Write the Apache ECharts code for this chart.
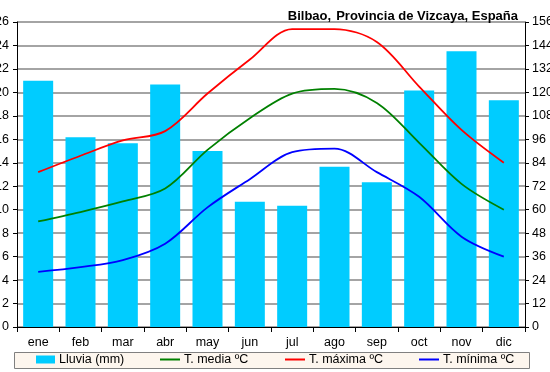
<!DOCTYPE html>
<html>
<head>
<meta charset="utf-8">
<script src="https://cdn.jsdelivr.net/npm/echarts@6/dist/echarts.min.js"></script>
<style>html,body{margin:0;padding:0;background:#fff}#c{width:550px;height:372px}</style>
</head>
<body>
<div id="c"></div>
<script>
var months = ['ene','feb','mar','abr','may','jun','jul','ago','sep','oct','nov','dic'];
var lluvia = [126, 97, 94, 124, 90, 64, 62, 82, 74, 121, 141, 116];
var tMedia = [9.0, 9.8, 10.7, 11.8, 15.1, 17.8, 19.9, 20.3, 19.1, 15.7, 12.2, 10.0];
var tMaxima = [13.2, 14.6, 15.9, 16.7, 19.9, 22.8, 25.4, 25.4, 24.3, 20.5, 16.8, 14.0];
var tMinima = [4.7, 5.1, 5.7, 7.1, 10.2, 12.6, 14.9, 15.2, 13.2, 11.1, 7.7, 6.0];
var leftTicks = {min: 0, max: 26, interval: 2};
var rightTicks = {min: 0, max: 156, interval: 12};
var names = ['Lluvia (mm)', 'T. media ºC', 'T. máxima ºC', 'T. mínima ºC'];

var font = 'Arial, "Liberation Sans", sans-serif';
var chart = echarts.init(document.getElementById('c'), null, {renderer: 'canvas'});
function leg(name, left, icon, w, h) {
  return {
    data: [{name: name, icon: icon}],
    left: left, top: 353, itemWidth: w, itemHeight: h, itemGap: 0, padding: 0,
    textStyle: {fontFamily: font, fontSize: 12.5, color: '#000', padding: [0,0,0,-1]},
    selectedMode: false
  };
}
chart.setOption({
  animation: false,
  textStyle: {fontFamily: font},
  title: {
    text: '{b|Bilbao,} {n|Provincia de Vizcaya, España}',
    right: 27, top: 2,
    textStyle: {rich: {
      b: {fontFamily: font, fontSize: 13, fontWeight: 'bold', color: '#000'},
      n: {fontFamily: font, fontSize: 13, color: '#000'}
    }}
  },
  graphic: [{
    type: 'rect', shape: {x: 14.5, y: 352.5, width: 515, height: 16},
    style: {fill: '#fdf6ee', stroke: '#808080', lineWidth: 1}, z: -1
  }],
  legend: [
    leg(names[0], 36, 'rect', 19, 8),
    leg(names[1], 160, 'rect', 20, 2),
    leg(names[2], 285, 'rect', 20, 2),
    leg(names[3], 419, 'rect', 20, 2)
  ],
  grid: {left: 17, right: 25, top: 22, bottom: 45, containLabel: false, outerBoundsMode: 'none'},
  xAxis: {
    type: 'category', data: months,
    axisLine: {lineStyle: {color: '#000', width: 1}},
    axisTick: {show: true, length: 5, lineStyle: {color: '#000'}},
    axisLabel: {color: '#000', fontSize: 12.5, margin: 9, fontFamily: font}
  },
  yAxis: [{
    type: 'value', min: leftTicks.min, max: leftTicks.max, interval: leftTicks.interval,
    axisLine: {show: true, lineStyle: {color: '#000'}},
    axisTick: {show: true, length: 4, lineStyle: {color: '#000'}},
    axisLabel: {color: '#000', fontSize: 12.5, margin: 8, fontFamily: font},
    splitLine: {show: true, lineStyle: {color: '#868686', width: 1.5}}
  }, {
    type: 'value', position: 'right', min: rightTicks.min, max: rightTicks.max, interval: rightTicks.interval,
    axisLine: {show: true, lineStyle: {color: '#000'}},
    axisTick: {show: true, length: 4, lineStyle: {color: '#000'}},
    axisLabel: {color: '#000', fontSize: 12.5, margin: 7, fontFamily: font},
    splitLine: {show: false}
  }],
  series: [{
    name: names[0], type: 'bar', yAxisIndex: 1, data: lluvia, barWidth: 30,
    itemStyle: {color: '#00ccff'}, z: 2
  }, {
    name: names[1], type: 'line', yAxisIndex: 0, data: tMedia, smooth: 0.33,
    symbol: 'none', itemStyle: {color: '#008000'}, lineStyle: {color: '#008000', width: 1.8}, z: 3
  }, {
    name: names[2], type: 'line', yAxisIndex: 0, data: tMaxima, smooth: 0.33,
    symbol: 'none', itemStyle: {color: '#ff0000'}, lineStyle: {color: '#ff0000', width: 1.8}, z: 3
  }, {
    name: names[3], type: 'line', yAxisIndex: 0, data: tMinima, smooth: 0.33,
    symbol: 'none', itemStyle: {color: '#0000ff'}, lineStyle: {color: '#0000ff', width: 1.8}, z: 3
  }]
});
</script>
</body>
</html>
